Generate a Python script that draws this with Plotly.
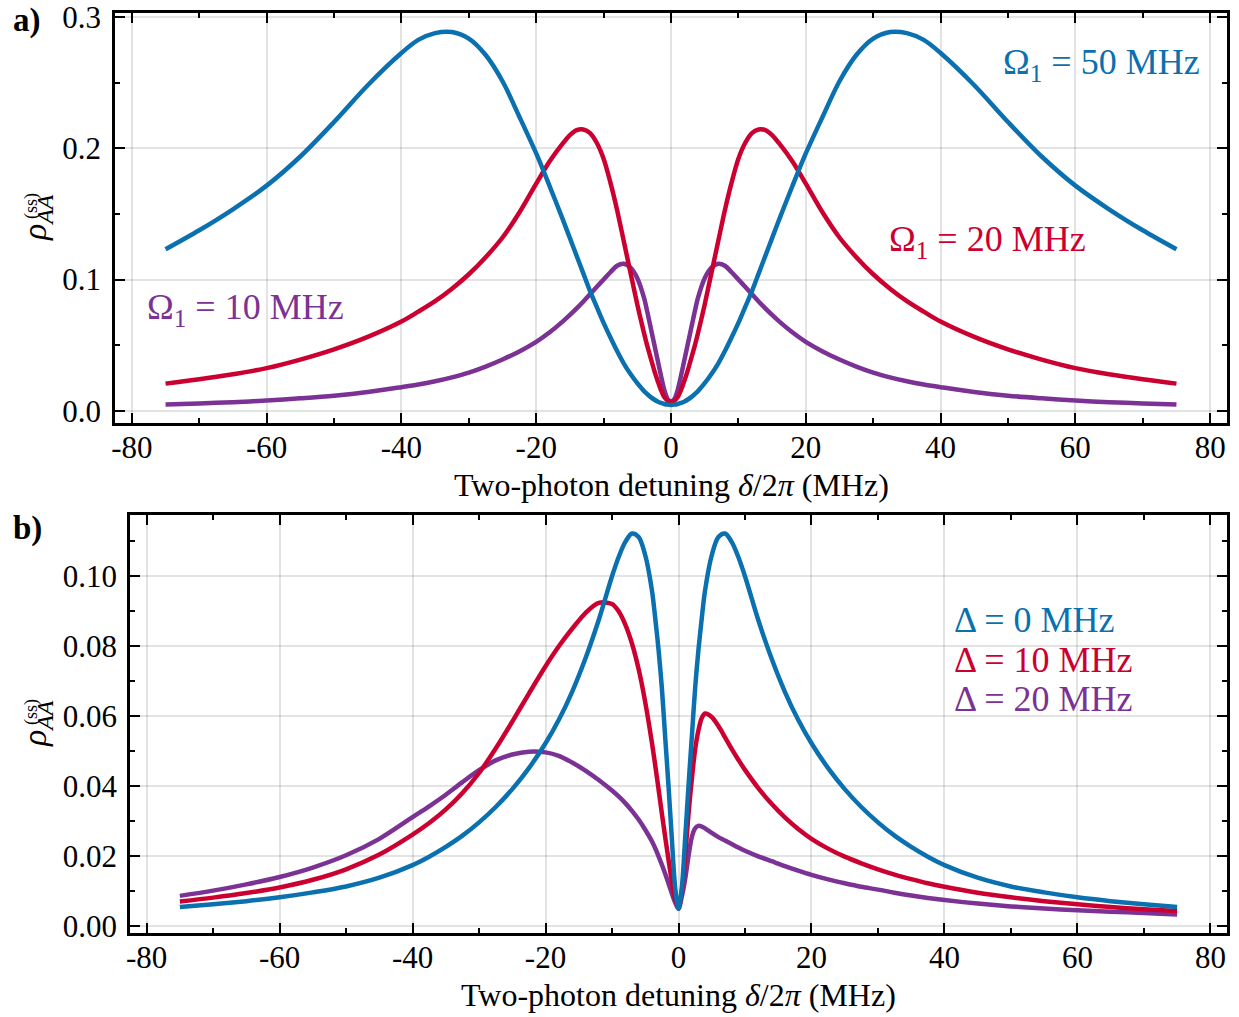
import plotly.graph_objects as go

# ---------------- panel a): rho_AA^(ss) vs two-photon detuning for three Omega_1 ----------------
# The three curves are even in the detuning; values are listed for delta >= 0 and mirrored.
delta_a_half = [0, 0.5, 1, 1.5, 2, 2.5, 3, 3.5, 4, 5, 6, 7, 8, 9, 10, 11, 12, 13, 14, 15, 16,
                18, 20, 22.5, 25, 27.5, 30, 32.5, 35, 37.5, 40, 45, 50, 55, 60, 65, 70, 75]
rho_a_50_half = [0.0045, 0.0047, 0.0052, 0.0060, 0.0071, 0.0086, 0.0104, 0.0126, 0.015, 0.021,
                 0.028, 0.036, 0.0455, 0.056, 0.067, 0.079, 0.091, 0.1045, 0.118, 0.1315,
                 0.145, 0.171, 0.196, 0.224, 0.251, 0.271, 0.2835, 0.2885, 0.2877, 0.2825,
                 0.2725, 0.2480, 0.2200, 0.1937, 0.1715, 0.1535, 0.1375, 0.123]
rho_a_20_half = [0.007, 0.0078, 0.0105, 0.016, 0.023, 0.031, 0.040, 0.049, 0.059, 0.081,
                 0.105, 0.129, 0.153, 0.174, 0.192, 0.204, 0.2115, 0.2143, 0.2138, 0.210,
                 0.204, 0.190, 0.173, 0.151, 0.132, 0.117, 0.104, 0.093, 0.0835, 0.0755,
                 0.068, 0.0563, 0.0468, 0.039, 0.0325, 0.0278, 0.024, 0.0207]
rho_a_10_half = [0.007, 0.009, 0.016, 0.027, 0.039, 0.051, 0.063, 0.075, 0.086, 0.101,
                 0.109, 0.112, 0.1105, 0.1055, 0.100, 0.0945, 0.0889, 0.0833, 0.078, 0.073,
                 0.0683, 0.0598, 0.0525, 0.0452, 0.0391, 0.0337, 0.0291, 0.0255, 0.0225,
                 0.020, 0.018, 0.0143, 0.0115, 0.0095, 0.0078, 0.0066, 0.0056, 0.0048]

# ---------------- panel b): rho_AA^(ss) for three single-photon detunings Delta ----------------
delta_b = [-75, -70, -65, -60, -55, -50, -45, -40, -37.5, -35, -32.5, -30, -27.5, -25, -22.5,
           -20, -18, -16, -14, -12, -10, -9, -8, -7, -6, -5, -4, -3.5, -3, -2.5, -2, -1.5, -1,
           -0.5, 0, 0.5, 1, 1.5, 2, 2.5, 3, 3.5, 4, 5, 6, 7, 8, 9, 10, 12, 14, 16, 18, 20,
           22.5, 25, 27.5, 30, 32.5, 35, 37.5, 40, 45, 50, 55, 60, 65, 70, 75]

# Delta = 0 is even in the detuning (values for delta >= 0, mirrored below)
rho_b_0_half = [0.005, 0.011, 0.025, 0.040, 0.054, 0.068, 0.079, 0.088, 0.096, 0.106,
                0.1112, 0.1122, 0.1098, 0.1055, 0.100, 0.0875, 0.0765, 0.0670, 0.0590, 0.0523,
                0.0452, 0.0392, 0.0341, 0.0297, 0.0259, 0.0227, 0.0199, 0.0175, 0.0139,
                0.0114, 0.0097, 0.0083, 0.0072, 0.0063, 0.0055]

rho_b_10 = [0.0071, 0.0082, 0.0095, 0.0111, 0.0133, 0.0163, 0.0205, 0.0262, 0.0295, 0.0334,
            0.0381, 0.0438, 0.0508, 0.0585, 0.0665, 0.0743, 0.0800, 0.0850, 0.0895, 0.0924,
            0.0921, 0.0900, 0.0862, 0.0808, 0.0735, 0.0640, 0.0525, 0.0460, 0.0392, 0.0322,
            0.0255, 0.0190, 0.0128, 0.0078, 0.0055, 0.0100, 0.0200, 0.0320, 0.0420, 0.0505,
            0.0560, 0.0595, 0.0608, 0.0598, 0.0572, 0.0540, 0.0507, 0.0476, 0.0447, 0.0395,
            0.0350, 0.0311, 0.0278, 0.0250, 0.0222, 0.0199, 0.0180, 0.0163, 0.0148, 0.0135,
            0.0123, 0.0113, 0.0096, 0.0083, 0.0072, 0.0063, 0.0055, 0.0049, 0.0044]

rho_b_20 = [0.0087, 0.0102, 0.0120, 0.0141, 0.0168, 0.0203, 0.0250, 0.0312, 0.0343, 0.0376,
            0.0412, 0.0446, 0.0474, 0.0491, 0.0499, 0.0497, 0.0487, 0.0468, 0.0445, 0.0418,
            0.0388, 0.0371, 0.0352, 0.0330, 0.0305, 0.0276, 0.0243, 0.0223, 0.0200, 0.0176,
            0.0150, 0.0122, 0.0094, 0.0068, 0.0050, 0.0085, 0.0135, 0.0200, 0.0255, 0.0280,
            0.0287, 0.0285, 0.0280, 0.0267, 0.0255, 0.0245, 0.0235, 0.0225, 0.0216, 0.0200,
            0.0186, 0.0172, 0.0159, 0.0147, 0.0134, 0.0123, 0.0113, 0.0105, 0.0096, 0.0088,
            0.0081, 0.0075, 0.0065, 0.0057, 0.0051, 0.0046, 0.0042, 0.0038, 0.0034]


def mirror(xs, ys):
    """Extend an even curve given for x >= 0 to negative x."""
    return [-v for v in xs[:0:-1]] + list(xs), list(ys[:0:-1]) + list(ys)


# tick labels
x_ticks = [-80, -60, -40, -20, 0, 20, 40, 60, 80]
x_ticktext = ["-80", "-60", "-40", "-20", "0", "20", "40", "60", "80"]
ya_ticks = [0.0, 0.1, 0.2, 0.3]
ya_ticktext = ["0.0", "0.1", "0.2", "0.3"]
yb_ticks = [0.00, 0.02, 0.04, 0.06, 0.08, 0.10]
yb_ticktext = ["0.00", "0.02", "0.04", "0.06", "0.08", "0.10"]

BLUE = "#0A70AF"
RED = "#CC0030"
PURPLE = "#7B3294"
FONT = "Liberation Serif"
LW = 4.5

fig = go.Figure()


def add_curve(x, y, color, xa, ya):
    fig.add_trace(go.Scatter(
        x=x, y=y, mode="lines", xaxis=xa, yaxis=ya, showlegend=False,
        line=dict(color=color, width=LW, shape="spline", smoothing=0.9),
    ))


add_curve(*mirror(delta_a_half, rho_a_10_half), PURPLE, "x", "y")
add_curve(*mirror(delta_a_half, rho_a_20_half), RED, "x", "y")
add_curve(*mirror(delta_a_half, rho_a_50_half), BLUE, "x", "y")

delta_b_half = [v for v in delta_b if v >= 0]
add_curve(delta_b, rho_b_20, PURPLE, "x2", "y2")
add_curve(delta_b, rho_b_10, RED, "x2", "y2")
add_curve(*mirror(delta_b_half, rho_b_0_half), BLUE, "x2", "y2")

W, H = 1239, 1017

axis_common = dict(
    ticks="inside", ticklen=10, tickwidth=2, tickcolor="black",
    showline=True, linewidth=2.5, linecolor="black", mirror="allticks",
    showgrid=True, gridcolor="rgba(0,0,0,0.11)", gridwidth=1.5, zeroline=False,
    tickfont=dict(family=FONT, size=31, color="black"), ticklabeloverflow="allow",
)


def minor(dt):
    return dict(tickmode="linear", tick0=0, dtick=dt, ticks="inside", ticklen=5,
                tickwidth=1.5, tickcolor="black", showgrid=False)


fig.update_layout(
    width=W, height=H,
    margin=dict(l=0, r=0, t=0, b=0, autoexpand=False),
    paper_bgcolor="white", plot_bgcolor="white",
    font=dict(family=FONT, color="black"),
    xaxis=dict(domain=[115 / W, 1227 / W], anchor="y", range=[-82.5, 82.5],
               tickmode="array", tickvals=x_ticks, ticktext=x_ticktext, minor=minor(10),
               ticklabelstandoff=-5, **axis_common),
    yaxis=dict(domain=[1 - 423 / H, 1 - 13 / H], anchor="x", range=[-0.0093, 0.303],
               tickmode="array", tickvals=ya_ticks, ticktext=ya_ticktext, minor=minor(0.05),
               ticklabelstandoff=5, **axis_common),
    xaxis2=dict(domain=[130 / W, 1227 / W], anchor="y2", range=[-82.5, 82.5],
                tickmode="array", tickvals=x_ticks, ticktext=x_ticktext, minor=minor(10),
                ticklabelstandoff=-5, **axis_common),
    yaxis2=dict(domain=[1 - 933 / H, 1 - 515 / H], anchor="x2", range=[-0.0019, 0.1175],
                tickmode="array", tickvals=yb_ticks, ticktext=yb_ticktext, minor=minor(0.01),
                ticklabelstandoff=4, **axis_common),
)

ann = []


def label(text, x, y, color, size=36, xref="x", yref="y", xanchor="left", yanchor="middle",
          angle=0):
    ann.append(dict(text=text, x=x, y=y, xref=xref, yref=yref, showarrow=False,
                    xanchor=xanchor, yanchor=yanchor, textangle=angle,
                    font=dict(family=FONT, size=size, color=color)))


# curve labels
label("Ω<sub>1</sub> = 50 MHz", 48.9, 0.2636, BLUE)
label("Ω<sub>1</sub> = 20 MHz", 32.0, 0.1288, RED)
label("Ω<sub>1</sub> = 10 MHz", -78.1, 0.0773, PURPLE)
label("Δ = 0 MHz", 41.2, 0.0874, BLUE, xref="x2", yref="y2")
label("Δ = 10 MHz", 41.2, 0.0760, RED, xref="x2", yref="y2")
label("Δ = 20 MHz", 41.2, 0.0649, PURPLE, xref="x2", yref="y2")

# axis titles
xtitle = "Two-photon detuning <i>δ</i>/2<i>π</i> (MHz)"
label(xtitle, 671 / W, 1 - 485 / H, "black", size=32, xref="paper", yref="paper",
      xanchor="center")
label(xtitle, 678.5 / W, 1 - 995 / H, "black", size=32, xref="paper", yref="paper",
      xanchor="center")

for yc in (218, 724):
    label("<i>ρ</i><sub><i>AA</i></sub>", 37 / W, 1 - yc / H, "black", size=34, xref="paper",
          yref="paper", xanchor="center", angle=-90)
    label("(ss)", 31 / W, 1 - (yc - 12) / H, "black", size=18, xref="paper", yref="paper",
          xanchor="center", angle=-90)

# panel tags
label("<b>a)</b>", 11 / W, 1 - 21 / H, "black", size=33, xref="paper", yref="paper")
label("<b>b)</b>", 11 / W, 1 - 528 / H, "black", size=33, xref="paper", yref="paper")

fig.update_layout(annotations=ann)

fig.write_html("out.html")
